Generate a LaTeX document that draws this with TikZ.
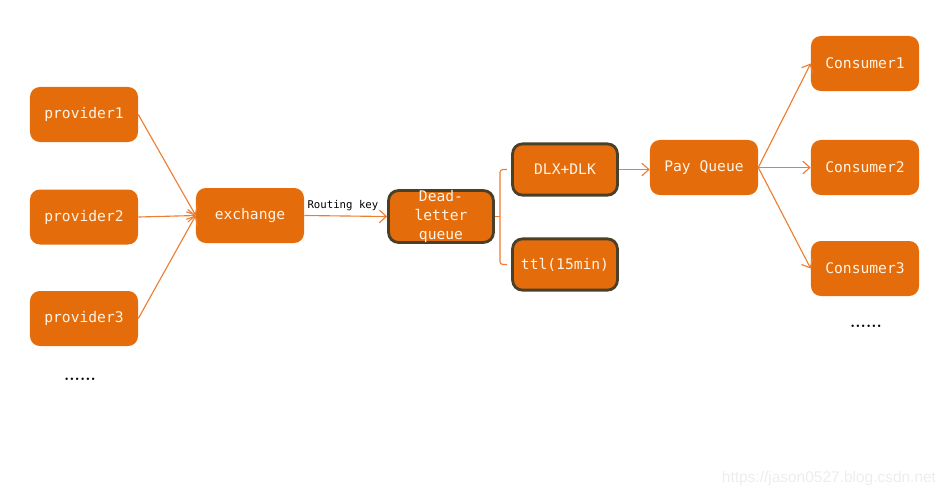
\documentclass[tikz,border=0pt]{standalone}
\usepackage{fontspec}
\setmonofont{DejaVu Sans Mono}
\setsansfont{Liberation Sans}
\usetikzlibrary{arrows.meta}
\definecolor{boxorange}{RGB}{228,108,10}
\definecolor{lineorange}{RGB}{237,125,49}
\definecolor{boxedge}{RGB}{74,64,42}
\definecolor{boxtext}{RGB}{255,244,230}
\begin{document}
\begin{tikzpicture}[x=0.025cm, y=-0.025cm, >={Straight Barb[length=5pt,width=9pt]},
    box/.style={fill=boxorange, draw=none, rounded corners=7pt, minimum width=2.7cm,
        minimum height=1.375cm, text=boxtext, font=\ttfamily\fontsize{10.4}{13}\selectfont, align=center},
    edgebox/.style={box, draw=boxedge, line width=2pt, minimum width=2.62cm, minimum height=1.28cm},
    link/.style={draw=lineorange, line width=0.8pt},
    dots/.style={font=\bfseries\large}]
    \useasboundingbox (0,0) rectangle (949,496);

    % Producers
    \foreach \i/\y in {1/114.5, 2/217, 3/318.5}{
        \node[box] (prov\i) at (84,\y) {provider\i};
    }
    \node[dots] (provdots) at (80,379) {......};

    % Exchange and queues
    \node[box] (exch) at (250,215.5) {exchange};
    \node[edgebox, inner sep=0pt, font=\ttfamily\fontsize{10.4}{13.4}\selectfont] (dlq) at (441,216.5) {Dead-\\letter\\queue};
    \node[edgebox] (dlx) at (565,169.5) {DLX+DLK};
    \node[edgebox] (ttl) at (565,264.5) {ttl(15min)};
    \node[box] (pay) at (704,167.5) {Pay Queue};

    % Consumers
    \foreach \i/\y in {1/63.5, 2/167.5, 3/268.5}{
        \node[box] (cons\i) at (865,\y) {Consumer\i};
    }
    \node[dots] (consdots) at (866,326) {......};

    % Links
    \foreach \i in {1,2,3}{
        \draw[link,->] (prov\i.east) -- (exch.west);
        \draw[link,->] (pay.east) -- (cons\i.west);
    }
    \draw[link,->] (exch.east) -- node[above, text=black, font=\ttfamily\fontsize{7.6}{9}\selectfont, xshift=-2pt] {Routing key} (dlq.west);
    \draw[link,->] (dlx.east) -- (pay.west |- dlx.east);

    % Bracket
    \coordinate (brk) at (500,216.5);
    \draw[link] (dlq.east) -- (brk);
    \draw[link, rounded corners=2pt] ([xshift=-3pt]dlx.west) -| (brk) |- ([xshift=-3pt]ttl.west);

    % Watermark
    \node[text=black!7, font=\sffamily\fontsize{11}{13}\selectfont] (mark) at (829,478) {https://jason0527.blog.csdn.net};
\end{tikzpicture}
\end{document}
